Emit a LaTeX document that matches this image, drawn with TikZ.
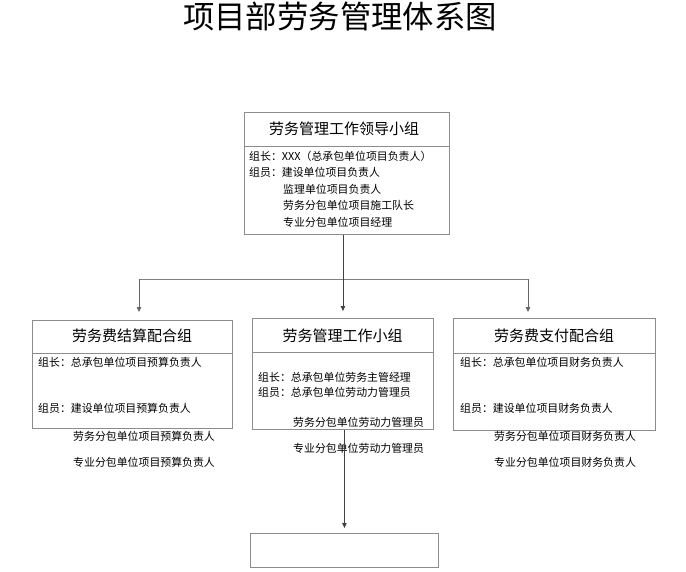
\documentclass[tikz,border=0pt]{standalone}
\usepackage{fontspec}
\setmainfont{Noto Sans CJK SC}
\usetikzlibrary{arrows.meta}
\begin{document}
\begin{tikzpicture}[x=1pt,y=-1pt,
  box/.style={draw=black!45, line width=0.9pt, rectangle, inner sep=0pt, anchor=north west},
  divline/.style={draw=black!45, line width=0.9pt},
  hdr/.style={font=\fontsize{15}{15}\selectfont, inner sep=0pt},
  body/.style={font=\fontsize{10.9}{10.9}\selectfont, inner sep=0pt, anchor=west},
  conn/.style={draw=black!75, line width=0.8pt},
  arr/.style={conn, -{Triangle[length=5pt,width=4.5pt]}},
  ttl/.style={font=\fontsize{31.4}{31.4}\selectfont, inner sep=0pt}]
\useasboundingbox (0,0) rectangle (686,571);
% title
\node[ttl] (title) at (340,17) {项目部劳务管理体系图};
% top box
\node[box, minimum width=205pt, minimum height=122pt] (top) at (244,112) {};
\draw[divline] (top.west |- 0,146) -- (top.east |- 0,146);
\node[hdr] (toph) at (344,129) {劳务管理工作领导小组};
\node[body] (t1) at (249,156) {组长：XXX（总承包单位项目负责人）};
\node[body] (t2) at (249,172) {组员：建设单位项目负责人};
\node[body] (t3) at (283,189) {监理单位项目负责人};
\node[body] (t4) at (283,205.5) {劳务分包单位项目施工队长};
\node[body] (t5) at (283,222) {专业分包单位项目经理};
% left box
\node[box, minimum width=200pt, minimum height=108pt] (left) at (32,320) {};
\draw[divline] (left.west |- 0,353) -- (left.east |- 0,353);
\node[hdr] (lefth) at (132,336) {劳务费结算配合组};
\node[body] (l1) at (38,362) {组长：总承包单位项目预算负责人};
\node[body] (l2) at (38,408) {组员：建设单位项目预算负责人};
\node[body] (l3) at (73,436.5) {劳务分包单位项目预算负责人};
\node[body] (l4) at (73,462) {专业分包单位项目预算负责人};
% middle box
\node[box, minimum width=181pt, minimum height=111pt] (mid) at (252,318) {};
\draw[divline] (mid.west |- 0,352) -- (mid.east |- 0,352);
\node[hdr] (midh) at (342.5,336) {劳务管理工作小组};
\node[body] (m1) at (258,377) {组长：总承包单位劳务主管经理};
\node[body] (m2) at (258,392) {组员：总承包单位劳动力管理员};
\node[body] (m3) at (293,422) {劳务分包单位劳动力管理员};
\node[body] (m4) at (293,448.5) {专业分包单位劳动力管理员};
% right box
\node[box, minimum width=202pt, minimum height=112pt] (right) at (453,318) {};
\draw[divline] (right.west |- 0,353) -- (right.east |- 0,353);
\node[hdr] (righth) at (554,336) {劳务费支付配合组};
\node[body] (r1) at (460,362) {组长：总承包单位项目财务负责人};
\node[body] (r2) at (460,408) {组员：建设单位项目财务负责人};
\node[body] (r3) at (494,436.5) {劳务分包单位项目财务负责人};
\node[body] (r4) at (494,462) {专业分包单位项目财务负责人};
% bottom box
\node[box, minimum width=188pt, minimum height=34pt] (bot) at (250,533) {};
% connectors
\coordinate (jl) at (139,279);
\coordinate (jr) at (528,279);
\draw[conn, draw=black!50] (jl) -- (jr);
\draw[arr, shorten >=7pt] (top.south -| mid.north) -- (mid.north);
\draw[arr, draw=black!60, shorten >=8pt] (jl) -- (jl |- left.north);
\draw[arr, draw=black!60, shorten >=6pt] (jr) -- (jr |- right.north);
\draw[arr, shorten >=5pt] (mid.south -| bot.north) -- (bot.north);
\end{tikzpicture}
\end{document}
